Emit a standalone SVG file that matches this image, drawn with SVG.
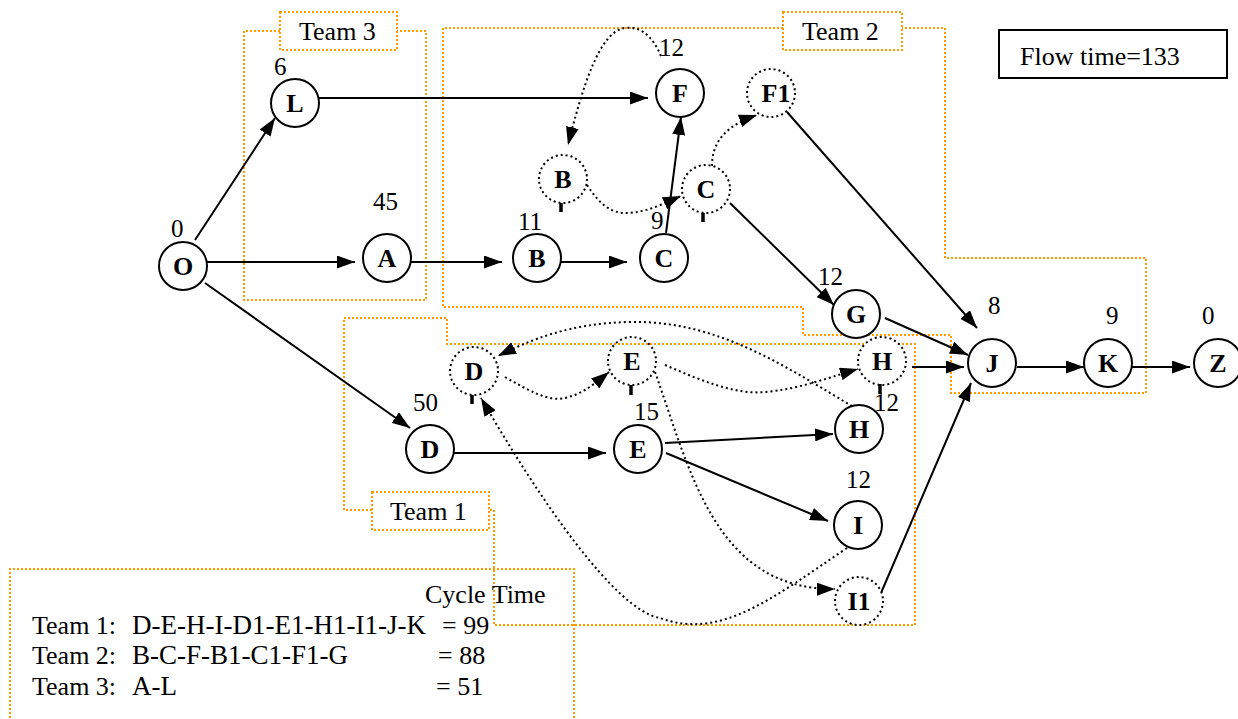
<svg xmlns="http://www.w3.org/2000/svg" width="1238" height="719" viewBox="0 0 1238 719">
  <style>
    .team { fill: none; stroke: #FF9900; stroke-width: 2; stroke-dasharray: 2 2; }
    .tag { fill: #fff; stroke: #FF9900; stroke-width: 2; stroke-dasharray: 2 2; }
    .edge { fill: none; stroke: #000; stroke-width: 2; marker-end: url(#ah); }
    .dot { fill: none; stroke: #000; stroke-width: 2; stroke-dasharray: 2 3; marker-end: url(#ah); }
    .n { fill: #fff; stroke: #000; stroke-width: 2; }
    .nd { fill: #fff; stroke: #000; stroke-width: 2; stroke-dasharray: 2 3; }
    .lbl { font-family: "Liberation Serif", "Times New Roman", serif; font-weight: bold; font-size: 26px; text-anchor: middle; fill: #000; }
    .num { font-family: "Liberation Serif", "Times New Roman", serif; font-size: 25px; fill: #000; }
    .txt { font-family: "Liberation Serif", "Times New Roman", serif; font-size: 26px; fill: #000; }
    .route { font-size: 27px; }
    .tick { stroke: #000; stroke-width: 3.5; fill: none; }
  </style>
  <defs>
    <marker id="ah" markerWidth="18" markerHeight="13" refX="18" refY="6.5" orient="auto" markerUnits="userSpaceOnUse">
      <path d="M0,0 L18,6.5 L0,13 z" fill="#000"/>
    </marker>
  </defs>

  <!-- team boundaries -->
  <g id="team3">
    <path class="team" d="M280,31 H244 V300 H426 V31 H397"/>
    <rect class="tag" x="280" y="12" width="117" height="38"/>
    <text class="txt" x="299" y="40">Team 3</text>
  </g>
  <g id="team2">
    <path class="team" d="M783,28 H443 V307 H803 V335 H951 V393 H1146 V258 H945 V28 H902"/>
    <rect class="tag" x="783" y="12" width="119" height="38"/>
    <text class="txt" x="802" y="40">Team 2</text>
  </g>
  <g id="team1">
    <path class="team" d="M372,510 H344 V318 H447 V344 H915 V625 H494 V510 H489"/>
    <rect class="tag" x="372" y="492" width="117" height="38"/>
    <text class="txt" x="390" y="520">Team 1</text>
  </g>

  <!-- connectors -->
  <g id="connectors">
    <path class="edge" d="M195,240 L275,118"/>
    <path class="edge" d="M207,262 L355,262"/>
    <path class="edge" d="M205,283 L410,428"/>
    <path class="edge" d="M319,98 L648,98"/>
    <path class="edge" d="M411,262 L502,262"/>
    <path class="edge" d="M561,262 L627,262"/>
    <path class="edge" d="M666,233 L681,117"/>
    <path class="edge" d="M730,203 L834,305"/>
    <path class="edge" d="M787,112 L977,328"/>
    <path class="edge" d="M885,318 L968,355"/>
    <path class="edge" d="M912,367 L964,367"/>
    <path class="edge" d="M1017,367 L1084,367"/>
    <path class="edge" d="M1132,367 L1190,367"/>
    <path class="edge" d="M454,453 L606,453"/>
    <path class="edge" d="M665,443 L833,434"/>
    <path class="edge" d="M666,453 L828,521"/>
    <path class="edge" d="M881,593 L971,383"/>

    <path class="dot" d="M661,56 C652,35 640,26 625,28 C600,31 583,85 568,145"/>
    <path class="dot" d="M587,185 C600,205 612,214 628,213 C648,212 665,203 681,196"/>
    <path class="dot" d="M712,166 C712,140 728,125 757,115"/>
    <path class="dot" d="M505,377 C528,390 548,402 565,398 C583,394 597,382 609,372"/>
    <path class="dot" d="M665,365 C700,380 735,395 765,392 C800,389 830,377 858,369"/>
    <path class="dot" d="M852,406 C790,370 720,320 630,322 C570,323 530,340 498,356"/>
    <path class="dot" d="M655,372 C690,470 715,590 835,589"/>
    <path class="dot" d="M847,548 C770,600 720,640 660,618 C615,610 540,500 481,398"/>
  </g>

  <!-- nodes -->
  <g id="node-O"><circle class="n" cx="183" cy="266" r="24"/><text class="lbl" x="183" y="275">O</text><text class="num" x="171" y="237">0</text></g>
  <g id="node-L"><circle class="n" cx="295" cy="103" r="24"/><text class="lbl" x="295" y="112">L</text><text class="num" x="274" y="75">6</text></g>
  <g id="node-A"><circle class="n" cx="387" cy="258" r="24"/><text class="lbl" x="387" y="267">A</text><text class="num" x="373" y="210">45</text></g>
  <g id="node-B"><circle class="n" cx="537" cy="258" r="24"/><text class="lbl" x="537" y="267">B</text><text class="num" x="518" y="230">11</text></g>
  <g id="node-C"><circle class="n" cx="664" cy="258" r="24"/><text class="lbl" x="664" y="267">C</text><text class="num" x="651" y="229">9</text></g>
  <g id="node-F"><circle class="n" cx="680" cy="93" r="24"/><text class="lbl" x="680" y="102">F</text><text class="num" x="659" y="56">12</text></g>
  <g id="node-B1"><circle class="nd" cx="563" cy="179" r="24"/><text class="lbl" x="563" y="188">B</text><path class="tick" d="M561,203 V212"/></g>
  <g id="node-C1"><circle class="nd" cx="706" cy="189" r="24"/><text class="lbl" x="706" y="198">C</text><path class="tick" d="M703,213 V222"/></g>
  <g id="node-F1"><circle class="nd" cx="771" cy="93" r="24"/><text class="lbl" x="776" y="102">F1</text></g>
  <g id="node-G"><circle class="n" cx="856" cy="314" r="24"/><text class="lbl" x="856" y="323">G</text><text class="num" x="818" y="285">12</text></g>
  <g id="node-J"><circle class="n" cx="992" cy="363" r="24"/><text class="lbl" x="992" y="372">J</text><text class="num" x="988" y="314">8</text></g>
  <g id="node-K"><circle class="n" cx="1108" cy="363" r="24"/><text class="lbl" x="1108" y="372">K</text><text class="num" x="1106" y="324">9</text></g>
  <g id="node-Z"><circle class="n" cx="1218" cy="363" r="24"/><text class="lbl" x="1218" y="372">Z</text><text class="num" x="1202" y="324">0</text></g>
  <g id="node-H1"><circle class="nd" cx="882" cy="361" r="24"/><text class="lbl" x="882" y="370">H</text><path class="tick" d="M880,384 V394"/></g>
  <g id="node-D1"><circle class="nd" cx="474" cy="371" r="24"/><text class="lbl" x="474" y="380">D</text><path class="tick" d="M472,395 V404"/></g>
  <g id="node-E1"><circle class="nd" cx="632" cy="361" r="24" style="fill:none"/><text class="lbl" x="632" y="370">E</text><path class="tick" d="M631,385 V395"/></g>
  <g id="node-D"><circle class="n" cx="430" cy="449" r="24"/><text class="lbl" x="430" y="458">D</text><text class="num" x="413" y="411">50</text></g>
  <g id="node-E"><circle class="n" cx="638" cy="449" r="24"/><text class="lbl" x="638" y="458">E</text><text class="num" x="634" y="420">15</text></g>
  <g id="node-H"><circle class="n" cx="859" cy="429" r="24"/><text class="lbl" x="859" y="438">H</text><text class="num" x="874" y="411">12</text></g>
  <g id="node-I"><circle class="n" cx="858" cy="525" r="24"/><text class="lbl" x="858" y="534">I</text><text class="num" x="846" y="488">12</text></g>
  <g id="node-I1"><circle class="nd" cx="859" cy="601" r="24"/><text class="lbl" x="859" y="610">I1</text></g>

  <!-- flow time box -->
  <g id="flow-time">
    <rect x="999" y="30" width="228" height="48" fill="#fff" stroke="#000" stroke-width="2"/>
    <text class="txt" x="1020" y="65">Flow time=133</text>
  </g>

  <!-- cycle time table -->
  <g id="cycle-table">
    <path class="team" d="M10,730 V569 H574 V730"/>
    <text class="txt" x="425" y="603">Cycle Time</text>
    <text class="txt" x="32" y="634">Team 1:</text>
    <text class="txt route" x="132" y="634">D-E-H-I-D1-E1-H1-I1-J-K</text>
    <text class="txt" x="442" y="634">= 99</text>
    <text class="txt" x="32" y="664">Team 2:</text>
    <text class="txt route" x="132" y="664">B-C-F-B1-C1-F1-G</text>
    <text class="txt" x="438" y="664">= 88</text>
    <text class="txt" x="32" y="695">Team 3:</text>
    <text class="txt route" x="132" y="695">A-L</text>
    <text class="txt" x="436" y="695">= 51</text>
  </g>
</svg>
